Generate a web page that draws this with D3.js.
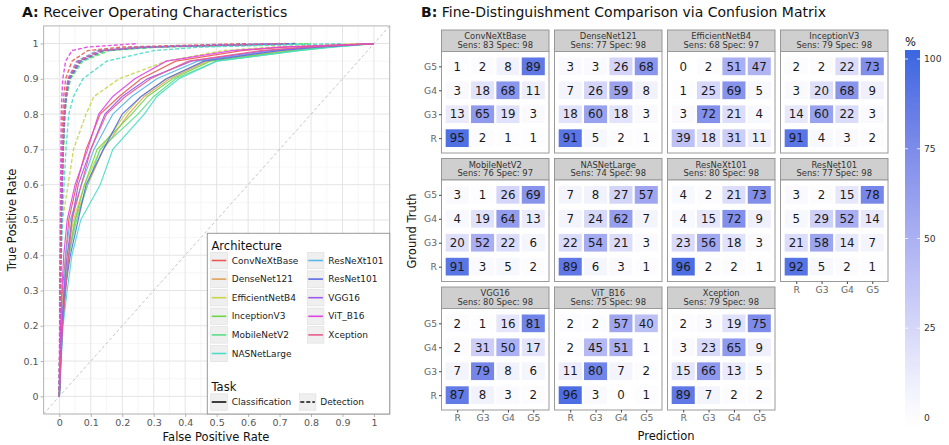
<!DOCTYPE html>
<html>
<head>
<meta charset="utf-8">
<script src="https://cdn.jsdelivr.net/npm/d3@7"></script>
<style>
  body { margin: 0; background: #fff; }
  svg text { font-family: 'DejaVu Sans', sans-serif; }
</style>
</head>
<body>
<svg id="chart" width="949" height="445"></svg>
<script>
//architectures, in legend / facet order
var models = ['ConvNeXtBase', 'DenseNet121', 'EfficientNetB4', 'InceptionV3', 'MobileNetV2',
              'NASNetLarge', 'ResNeXt101', 'ResNet101', 'VGG16', 'ViT_B16', 'Xception'];
var tasks = ['Classification', 'Detection'];

//ROC curves: true positive rate levels, and the false positive rate each curve has at that level
var tprLevels = [0, 0.1, 0.2, 0.3, 0.4, 0.5, 0.6, 0.7, 0.8, 0.85, 0.9, 0.95, 0.98, 0.99, 1];
var clsFpr = [
  [0, 0.003, 0.006, 0.010, 0.020, 0.030, 0.055, 0.085, 0.130, 0.190, 0.260, 0.370, 0.580, 0.720, 1],
  [0, 0.004, 0.008, 0.015, 0.030, 0.050, 0.090, 0.140, 0.220, 0.270, 0.350, 0.470, 0.720, 0.840, 1],
  [0, 0.003, 0.007, 0.012, 0.025, 0.045, 0.080, 0.130, 0.210, 0.260, 0.340, 0.460, 0.700, 0.820, 1],
  [0, 0.005, 0.010, 0.020, 0.030, 0.050, 0.080, 0.120, 0.230, 0.280, 0.360, 0.480, 0.740, 0.850, 1],
  [0, 0.004, 0.009, 0.018, 0.030, 0.055, 0.090, 0.130, 0.250, 0.300, 0.370, 0.500, 0.760, 0.860, 1],
  [0, 0.006, 0.012, 0.025, 0.040, 0.068, 0.130, 0.170, 0.270, 0.310, 0.380, 0.500, 0.760, 0.870, 1],
  [0, 0.004, 0.008, 0.015, 0.020, 0.035, 0.070, 0.110, 0.170, 0.230, 0.310, 0.440, 0.680, 0.800, 1],
  [0, 0.005, 0.010, 0.018, 0.035, 0.060, 0.085, 0.140, 0.200, 0.260, 0.340, 0.460, 0.700, 0.820, 1],
  [0, 0.003, 0.008, 0.015, 0.025, 0.040, 0.060, 0.100, 0.145, 0.200, 0.280, 0.420, 0.660, 0.800, 1],
  [0, 0.002, 0.004, 0.008, 0.014, 0.025, 0.050, 0.090, 0.125, 0.170, 0.240, 0.340, 0.550, 0.700, 1],
  [0, 0.004, 0.010, 0.020, 0.030, 0.040, 0.070, 0.100, 0.150, 0.210, 0.290, 0.410, 0.640, 0.780, 1]
];
var detFpr = [
  [0, 0.001, 0.002, 0.003, 0.004, 0.005, 0.006, 0.008, 0.011, 0.014, 0.020, 0.040, 0.090, 0.200, 0.60],
  [0, 0.001, 0.002, 0.003, 0.005, 0.007, 0.009, 0.012, 0.016, 0.021, 0.030, 0.065, 0.140, 0.280, 0.75],
  [0, 0.001, 0.002, 0.003, 0.004, 0.010, 0.028, 0.045, 0.085, 0.110, 0.190, 0.340, 0.520, 0.680, 0.95],
  [0, 0.001, 0.002, 0.003, 0.005, 0.007, 0.010, 0.013, 0.018, 0.023, 0.034, 0.070, 0.150, 0.300, 0.80],
  [0, 0.001, 0.002, 0.004, 0.005, 0.007, 0.010, 0.013, 0.018, 0.024, 0.036, 0.075, 0.160, 0.320, 0.80],
  [0, 0.002, 0.003, 0.005, 0.007, 0.010, 0.015, 0.021, 0.030, 0.045, 0.075, 0.150, 0.300, 0.450, 0.90],
  [0, 0.001, 0.002, 0.003, 0.004, 0.006, 0.008, 0.011, 0.015, 0.019, 0.027, 0.055, 0.120, 0.250, 0.70],
  [0, 0.001, 0.002, 0.003, 0.005, 0.007, 0.009, 0.012, 0.017, 0.022, 0.032, 0.068, 0.140, 0.290, 0.75],
  [0, 0.001, 0.002, 0.003, 0.005, 0.006, 0.009, 0.012, 0.016, 0.021, 0.030, 0.062, 0.130, 0.270, 0.70],
  [0, 0.000, 0.001, 0.001, 0.002, 0.003, 0.004, 0.005, 0.006, 0.008, 0.011, 0.020, 0.040, 0.090, 0.25],
  [0, 0.001, 0.002, 0.003, 0.004, 0.006, 0.008, 0.011, 0.015, 0.020, 0.028, 0.058, 0.130, 0.260, 0.72]
];

//confusion matrices (%): rows = ground truth R,G3,G4,G5 ; cols = prediction R,G3,G4,G5
var grades = ['R', 'G3', 'G4', 'G5'];
var sens = [83, 77, 68, 79, 76, 74, 80, 77, 80, 75, 79];
var spec = [98, 98, 97, 98, 97, 98, 98, 98, 98, 98, 98];
var matrices = [
  [[95, 2, 1, 1], [13, 65, 19, 3], [3, 18, 68, 11], [1, 2, 8, 89]],
  [[91, 5, 2, 1], [18, 60, 18, 3], [7, 26, 59, 8], [3, 3, 26, 68]],
  [[39, 18, 31, 11], [3, 72, 21, 4], [1, 25, 69, 5], [0, 2, 51, 47]],
  [[91, 4, 3, 2], [14, 60, 22, 3], [3, 20, 68, 9], [2, 2, 22, 73]],
  [[91, 3, 5, 2], [20, 52, 22, 6], [4, 19, 64, 13], [3, 1, 26, 69]],
  [[89, 6, 3, 1], [22, 54, 21, 3], [7, 24, 62, 7], [7, 8, 27, 57]],
  [[96, 2, 2, 1], [23, 56, 18, 3], [4, 15, 72, 9], [4, 2, 21, 73]],
  [[92, 5, 2, 1], [21, 58, 14, 7], [5, 29, 52, 14], [3, 2, 15, 78]],
  [[87, 8, 3, 2], [7, 79, 8, 6], [2, 31, 50, 17], [2, 1, 16, 81]],
  [[96, 3, 0, 1], [11, 80, 7, 2], [2, 45, 51, 1], [2, 2, 57, 40]],
  [[89, 7, 2, 2], [15, 66, 13, 5], [3, 23, 65, 9], [2, 3, 19, 75]]
];
var colorTicks = [0, 25, 50, 75, 100];

var svg = d3.select('#chart');

//PANEL A: ROC CURVES
function rocPanel() {
    var x = d3.scaleLinear().domain([-0.05, 1.05]).range([43.6, 389.7]);
    var y = d3.scaleLinear().domain([-0.05, 1.05]).range([414, 25.9]);
    var color = d3.scaleOrdinal().domain(models)
        .range(['#e85a52', '#dfa25c', '#c8d64c', '#6ed547', '#58df86', '#4ddcc8',
                '#5ab6e6', '#5a6be6', '#9d58ee', '#e044e4', '#e95b8f']);
    var major = d3.range(0, 11).map(i => i / 10);
    var minor = d3.range(-1, 21, 2).map(i => i / 20);

    var g = svg.append('g').attr('class', 'roc');

    //title
    g.append('text').attr('x', 22).attr('y', 17)
        .style('font-size', '14px').attr('fill', '#111')
        .html('<tspan font-weight="bold">A:</tspan> Receiver Operating Characteristics');

    //grid
    var grid = g.append('g');
    grid.selectAll('.vmin').data(minor).enter().append('line')
        .attr('x1', d => x(d)).attr('x2', d => x(d)).attr('y1', y.range()[0]).attr('y2', y.range()[1])
        .attr('stroke', '#f0f0f0').attr('stroke-width', 0.6);
    grid.selectAll('.hmin').data(minor).enter().append('line')
        .attr('y1', d => y(d)).attr('y2', d => y(d)).attr('x1', x.range()[0]).attr('x2', x.range()[1])
        .attr('stroke', '#f0f0f0').attr('stroke-width', 0.6);
    grid.selectAll('.vmaj').data(major).enter().append('line')
        .attr('x1', d => x(d)).attr('x2', d => x(d)).attr('y1', y.range()[0]).attr('y2', y.range()[1])
        .attr('stroke', '#e4e4e4').attr('stroke-width', 1);
    grid.selectAll('.hmaj').data(major).enter().append('line')
        .attr('y1', d => y(d)).attr('y2', d => y(d)).attr('x1', x.range()[0]).attr('x2', x.range()[1])
        .attr('stroke', '#e4e4e4').attr('stroke-width', 1);

    //clip
    svg.append('clipPath').attr('id', 'rocclip').append('rect')
        .attr('x', x.range()[0]).attr('y', y.range()[1])
        .attr('width', x.range()[1] - x.range()[0]).attr('height', y.range()[0] - y.range()[1]);

    var plot = g.append('g').attr('clip-path', 'url(#rocclip)');

    //chance diagonal
    plot.append('line')
        .attr('x1', x(-0.05)).attr('y1', y(-0.05)).attr('x2', x(1.05)).attr('y2', y(1.05))
        .attr('stroke', '#b5b5b5').attr('stroke-width', 0.8).attr('stroke-dasharray', '3,2.5');

    var line = d3.line().x(d => x(d[0])).y(d => y(d[1]));
    var curves = [];
    models.forEach((m, i) => {
        curves.push({model: m, task: 'Detection', pts: tprLevels.map((t, k) => [detFpr[i][k], t])});
    });
    models.forEach((m, i) => {
        curves.push({model: m, task: 'Classification', pts: tprLevels.map((t, k) => [clsFpr[i][k], t])});
    });

    plot.selectAll('path.curve').data(curves).enter().append('path')
        .attr('class', 'curve')
        .attr('d', d => line(d.pts))
        .attr('fill', 'none')
        .attr('stroke', d => color(d.model))
        .attr('stroke-width', d => d.task == 'Detection' ? 1.4 : 1.2)
        .attr('stroke-dasharray', d => d.task == 'Detection' ? '4,2' : null)
        .attr('stroke-opacity', 0.9);

    //panel border
    g.append('rect')
        .attr('x', x.range()[0]).attr('y', y.range()[1])
        .attr('width', x.range()[1] - x.range()[0]).attr('height', y.range()[0] - y.range()[1])
        .attr('fill', 'none').attr('stroke', '#b3b3b3');

    //axes
    var xAxis = g.append('g').attr('transform', 'translate(0,' + y.range()[0] + ')')
        .call(d3.axisBottom(x).tickValues(major).tickFormat(d3.format('~g')).tickSize(3).tickPadding(2));
    var yAxis = g.append('g').attr('transform', 'translate(' + x.range()[0] + ',0)')
        .call(d3.axisLeft(y).tickValues(major).tickFormat(d3.format('~g')).tickSize(3).tickPadding(2));
    [xAxis, yAxis].forEach(a => {
        a.select('.domain').remove();
        a.selectAll('line').attr('stroke', '#b3b3b3');
        a.selectAll('text').attr('fill', '#555').style('font-size', '9.5px');
    });

    g.append('text').attr('x', 216).attr('y', 441).attr('text-anchor', 'middle')
        .style('font-size', '11.5px').attr('fill', '#111').text('False Positive Rate');
    g.append('text').attr('transform', 'translate(16,220) rotate(-90)').attr('text-anchor', 'middle')
        .style('font-size', '11.5px').attr('fill', '#111').text('True Positive Rate');

    //legend
    var leg = g.append('g').attr('class', 'legend');
    leg.append('rect').attr('x', 207.3).attr('y', 233.3).attr('width', 182.4).attr('height', 180.7)
        .attr('fill', 'white').attr('stroke', '#999');
    leg.append('text').attr('x', 211.5).attr('y', 250).style('font-size', '11.5px')
        .attr('fill', '#111').text('Architecture');

    var items = leg.selectAll('g.item').data(models).enter().append('g')
        .attr('class', 'item')
        .attr('transform', (d, i) => 'translate(' + (i < 6 ? 210.7 : 307.3) + ',' + (260.5 + (i % 6) * 18.6) + ')');
    items.append('rect').attr('x', 0).attr('y', -8.2).attr('width', 16.6).attr('height', 16.4)
        .attr('fill', '#efefef').attr('stroke', '#dddddd').attr('stroke-width', 0.6);
    items.append('line').attr('x1', 1).attr('x2', 15.6).attr('y1', 0).attr('y2', 0)
        .attr('stroke', d => color(d)).attr('stroke-width', 1.6);
    items.append('text').attr('x', 21).attr('y', 0).attr('dy', '0.35em')
        .style('font-size', '9px').attr('fill', '#222').text(d => d);

    leg.append('text').attr('x', 211.5).attr('y', 391).style('font-size', '11.5px')
        .attr('fill', '#111').text('Task');
    var titems = leg.selectAll('g.titem').data(tasks).enter().append('g')
        .attr('class', 'titem')
        .attr('transform', (d, i) => 'translate(' + (i == 0 ? 210.7 : 299.3) + ',402)');
    titems.append('rect').attr('x', 0).attr('y', -8.2).attr('width', 16.6).attr('height', 16.4)
        .attr('fill', '#efefef').attr('stroke', '#dddddd').attr('stroke-width', 0.6);
    titems.append('line').attr('x1', 1).attr('x2', 15.6).attr('y1', 0).attr('y2', 0)
        .attr('stroke', '#111').attr('stroke-width', 1.6)
        .attr('stroke-dasharray', d => d == 'Detection' ? '4,2' : null);
    titems.append('text').attr('x', 21).attr('y', 0).attr('dy', '0.35em')
        .style('font-size', '9px').attr('fill', '#222').text(d => d);
}

//PANEL B: CONFUSION MATRICES
function confusionPanel() {
    var panelW = 107.5, panelH = 101.5, stripH = 21.5;
    var colX = d => 441.5 + d * 113;
    var rowY = d => 30 + d * 128.5;

    var fill = d3.scaleLinear().domain([0, 100]).range(['#ffffff', '#4169e1']).interpolate(d3.interpolateLab);
    var x = d3.scalePoint().domain(grades).range([0, panelW]).padding(0.62);
    var y = d3.scalePoint().domain(grades.slice().reverse()).range([0, panelH]).padding(0.62);
    var tileW = x.step() * 0.91, tileH = y.step() * 0.74;

    var g = svg.append('g').attr('class', 'cm');

    g.append('text').attr('x', 421).attr('y', 17)
        .style('font-size', '14px').attr('fill', '#111')
        .html('<tspan font-weight="bold">B:</tspan> Fine-Distinguishment Comparison via Confusion Matrix');

    var nCols = 4;
    models.forEach((m, i) => {
        var col = i % nCols, row = Math.floor(i / nCols);
        var fx = colX(col), sy = rowY(row), py = sy + stripH;
        var f = g.append('g');

        //strip
        f.append('rect').attr('x', fx).attr('y', sy).attr('width', panelW).attr('height', stripH)
            .attr('fill', '#cfcfcf').attr('stroke', '#8f8f8f').attr('stroke-width', 0.9);
        f.append('text').attr('x', fx + panelW / 2).attr('y', sy + 9.3).attr('text-anchor', 'middle')
            .style('font-size', '8.4px').attr('fill', '#333').text(m);
        f.append('text').attr('x', fx + panelW / 2).attr('y', sy + 17.6).attr('text-anchor', 'middle')
            .style('font-size', '8.4px').attr('fill', '#333')
            .text('Sens: ' + sens[i] + ' Spec: ' + spec[i]);

        //panel
        f.append('rect').attr('x', fx).attr('y', py).attr('width', panelW).attr('height', panelH)
            .attr('fill', 'white');

        var cells = [];
        grades.forEach((gt, r) => grades.forEach((pr, c) => cells.push({gt: gt, pr: pr, v: matrices[i][r][c]})));

        var cg = f.append('g').attr('transform', 'translate(' + fx + ',' + py + ')');
        cg.selectAll('rect').data(cells).enter().append('rect')
            .attr('x', d => x(d.pr) - tileW / 2).attr('y', d => y(d.gt) - tileH / 2)
            .attr('width', tileW).attr('height', tileH)
            .attr('fill', d => fill(d.v));
        cg.selectAll('text').data(cells).enter().append('text')
            .attr('x', d => x(d.pr)).attr('y', d => y(d.gt)).attr('dy', '0.36em')
            .attr('text-anchor', 'middle').style('font-size', '11.8px').attr('fill', '#1a1a1a')
            .text(d => d.v);

        f.append('rect').attr('x', fx).attr('y', py).attr('width', panelW).attr('height', panelH)
            .attr('fill', 'none').attr('stroke', '#9a9a9a').attr('stroke-width', 1);

        //axes: left on first column, bottom on last panel of each column
        if (col == 0) {
            var ya = f.append('g').attr('transform', 'translate(' + fx + ',' + py + ')')
                .call(d3.axisLeft(y).tickSize(2.5).tickPadding(2));
            styleAxis(ya);
        }
        if (i + nCols >= models.length) {
            var xa = f.append('g').attr('transform', 'translate(' + fx + ',' + (py + panelH) + ')')
                .call(d3.axisBottom(x).tickSize(2.5).tickPadding(2));
            styleAxis(xa);
        }
    });

    function styleAxis(a) {
        a.select('.domain').remove();
        a.selectAll('line').attr('stroke', '#444');
        a.selectAll('text').attr('fill', '#666').style('font-size', '9.2px');
    }

    g.append('text').attr('x', 666).attr('y', 440).attr('text-anchor', 'middle')
        .style('font-size', '11.5px').attr('fill', '#111').text('Prediction');
    g.append('text').attr('transform', 'translate(416,231) rotate(-90)').attr('text-anchor', 'middle')
        .style('font-size', '11.5px').attr('fill', '#111').text('Ground Truth');

    //colour bar
    var cy = d3.scaleLinear().domain([0, 100]).range([418, 59]);
    var defs = svg.append('defs');
    var grad = defs.append('linearGradient').attr('id', 'cbar')
        .attr('x1', 0).attr('y1', 1).attr('x2', 0).attr('y2', 0);
    d3.range(0, 11).forEach(k => {
        grad.append('stop').attr('offset', k / 10).attr('stop-color', fill(-2.5 + k * 10.5));
    });
    var bar = g.append('g');
    bar.append('rect').attr('x', 905).attr('y', cy(102.5)).attr('width', 15)
        .attr('height', cy(-2.5) - cy(102.5)).attr('fill', 'url(#cbar)');
    bar.selectAll('line.l').data(colorTicks).enter().append('line')
        .attr('x1', 905).attr('x2', 908).attr('y1', d => cy(d)).attr('y2', d => cy(d))
        .attr('stroke', 'white').attr('stroke-width', 0.8);
    bar.selectAll('line.r').data(colorTicks).enter().append('line')
        .attr('x1', 917).attr('x2', 920).attr('y1', d => cy(d)).attr('y2', d => cy(d))
        .attr('stroke', 'white').attr('stroke-width', 0.8);
    bar.selectAll('text').data(colorTicks).enter().append('text')
        .attr('x', 924).attr('y', d => cy(d)).attr('dy', '0.35em')
        .style('font-size', '9.2px').attr('fill', '#333').text(d => d);
    g.append('text').attr('x', 905).attr('y', 46).style('font-size', '11.5px')
        .attr('fill', '#111').text('%');
}

rocPanel();
confusionPanel();
</script>
</body>
</html>
